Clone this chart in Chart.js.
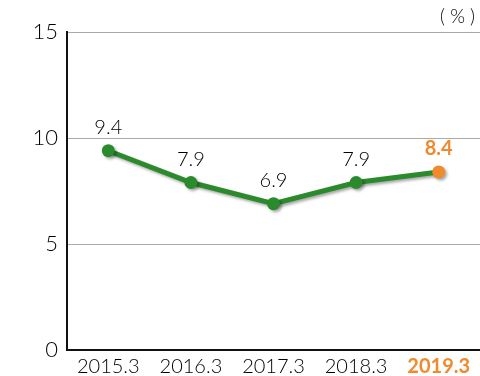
<!DOCTYPE html>
<html>
<head>
<meta charset="utf-8">
<script src="https://cdn.jsdelivr.net/npm/chart.js@4/dist/chart.umd.min.js"></script>
<style>
  html, body { margin: 0; padding: 0; background: #fff; }
  #wrap { width: 480px; height: 376px; position: relative; }
</style>
</head>
<body>
<div id="wrap"><canvas id="chart"></canvas></div>
<script>
const years = ['2015.3', '2016.3', '2017.3', '2018.3', '2019.3']
const rates = [9.4, 7.9, 6.9, 7.9, 8.4]
const unit_label = '( % )'

const green = '#2b8a2b'
const orange = '#f08a2c'
const font_family = 'Lato, "DejaVu Sans Condensed", sans-serif'
const last = years.length - 1

// draws the value above each point and the unit in the corner
const labels_plugin = {
  id: 'labels_plugin',
  beforeDatasetDraw(chart) {
    chart.ctx.save()
    chart.ctx.shadowColor = 'rgba(0,0,0,0.35)'
    chart.ctx.shadowBlur = 3
    chart.ctx.shadowOffsetX = 2
    chart.ctx.shadowOffsetY = 2
  },
  afterDatasetDraw(chart) {
    chart.ctx.restore()
  },
  afterDraw(chart) {
    const ctx = chart.ctx
    const meta = chart.getDatasetMeta(0)
    ctx.save()
    ctx.textAlign = 'center'
    ctx.textBaseline = 'bottom'
    meta.data.forEach((pt, i) => {
      const is_last = i === last
      ctx.fillStyle = is_last ? orange : '#000'
      ctx.font = (is_last ? 'bold ' : '300 ') + '20px ' + font_family
      ctx.fillText(rates[i].toFixed(1), pt.x, pt.y - 13)
    })
    ctx.textAlign = 'right'
    ctx.textBaseline = 'middle'
    ctx.fillStyle = '#000'
    ctx.font = '300 19px ' + font_family
    ctx.fillText(unit_label, 475, 17)
    ctx.restore()
  }
}

new Chart(document.getElementById('chart'), {
  type: 'line',
  data: {
    labels: years,
    datasets: [{
      data: rates,
      borderColor: green,
      borderWidth: 5,
      pointRadius: 6.5,
      pointHoverRadius: 6.5,
      pointBackgroundColor: years.map((y, i) => i === last ? orange : green),
      pointBorderWidth: 0,
      tension: 0,
    }]
  },
  options: {
    responsive: true,
    maintainAspectRatio: false,
    animation: false,
    layout: { autoPadding: false, padding: { top: 32, right: 0, left: 0, bottom: 0 } },
    plugins: {
      legend: { display: false },
      tooltip: { enabled: false },
    },
    scales: {
      x: {
        offset: true,
        afterFit: scale => { scale.height = 26 },
        grid: { display: false, drawTicks: false },
        border: { color: '#111', width: 2 },
        ticks: {
          padding: 5,
          color: ctx => ctx.index === last ? orange : '#000',
          font: ctx => ({
            family: font_family,
            size: 20,
            weight: ctx.index === last ? 'bold' : '300',
          }),
          maxRotation: 0,
        },
      },
      y: {
        min: 0,
        max: 15,
        afterFit: scale => { scale.width = 67 },
        grid: { color: '#aaa', lineWidth: 1, drawTicks: false },
        border: { color: '#111', width: 2 },
        ticks: {
          stepSize: 5,
          padding: 9,
          color: '#000',
          font: { family: font_family, size: 22, weight: '300' },
        },
      }
    }
  },
  plugins: [labels_plugin]
})
</script>
</body>
</html>
